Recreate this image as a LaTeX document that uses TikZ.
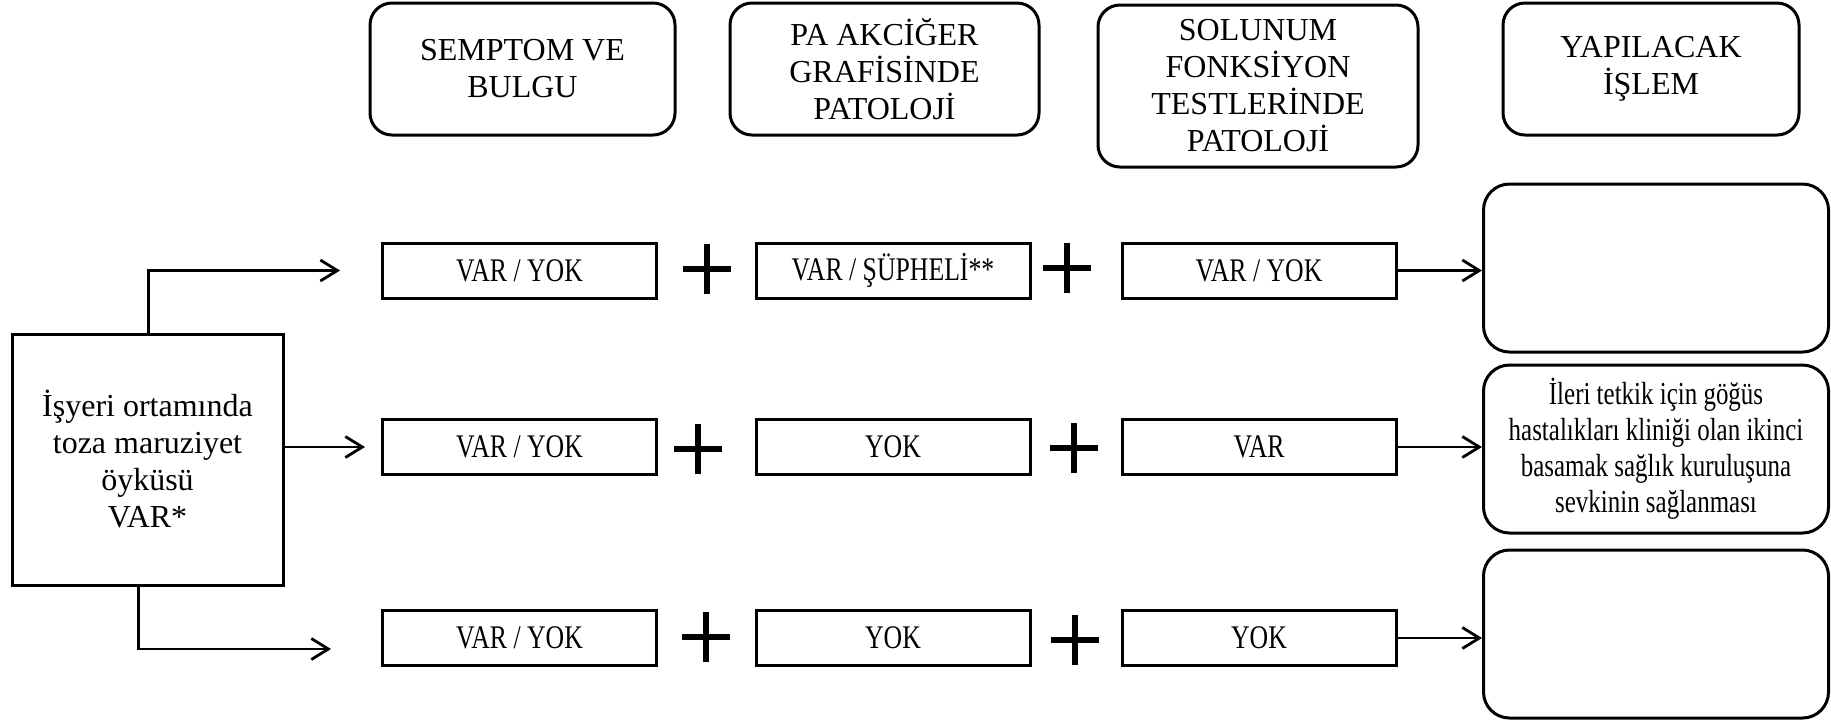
\documentclass[tikz,border=0pt]{standalone}
\usepackage{fontspec}
\setmainfont{Liberation Serif}
\newfontfamily\narrowfont{Liberation Serif}[FakeStretch=0.78]
\usetikzlibrary{arrows.meta}

\begin{document}
\begin{tikzpicture}[x=0.5pt,y=-0.5pt,
        >={Straight Barb[length=8.5pt,width=10.5pt]},
        head/.style={draw,line width=1.5pt,rounded corners=11pt,align=center,inner sep=0pt,font=\fontsize{16}{18.5}\selectfont},
        cell/.style={draw,line width=1.5pt,minimum width=137pt,minimum height=27.5pt,inner sep=0pt,font=\narrowfont\fontsize{16.5}{18.5}\selectfont},
        result/.style={draw,line width=1.5pt,rounded corners=13pt,minimum width=172.5pt,minimum height=84pt,align=center,inner sep=0pt,font=\narrowfont\fontsize{16}{18}\selectfont},
        arr/.style={->,line width=1.4pt},
        plus/.style={line width=3pt}]
            \useasboundingbox (0,0) rectangle (1831,720);
            \node[head,minimum width=152.5pt,minimum height=66pt] (symp) at (522.5,69) {SEMPTOM VE\\BULGU};
            \node[head,minimum width=154.5pt,minimum height=66pt] (pa) at (884.5,69) {PA AKCİĞER\\GRAFİSİNDE\\PATOLOJİ};
            \node[head,minimum width=160pt,minimum height=81pt] (sft) at (1258,86) {SOLUNUM\\FONKSİYON\\TESTLERİNDE\\PATOLOJİ};
            \node[head,minimum width=148pt,minimum height=66pt] (islem) at (1651,69) {YAPILACAK\\İŞLEM};
            \node[draw,line width=1.5pt,minimum width=135.5pt,minimum height=125.5pt,align=center,inner sep=0pt,font=\fontsize{16}{18.5}\selectfont] (oyku) at (147.5,459.5) {İşyeri ortamında\\toza maruziyet\\öyküsü\\VAR*};
            \node[cell] (r1a) at (519.5,270.5) {VAR / YOK};
            \node[cell] (r1b) at (893,270.5) {VAR / ŞÜPHELİ**};
            \node[cell] (r1c) at (1259,270.5) {VAR / YOK};
            \node[cell] (r2a) at (519.5,447) {VAR / YOK};
            \node[cell] (r2b) at (893,447) {YOK};
            \node[cell] (r2c) at (1259,447) {VAR};
            \node[cell] (r3a) at (519.5,638) {VAR / YOK};
            \node[cell] (r3b) at (893,638) {YOK};
            \node[cell] (r3c) at (1259,638) {YOK};
            \node[result] (o1) at (1656,268) {};
            \node[result] (o2) at (1656,449) {İleri tetkik için göğüs\\hastalıkları kliniği olan ikinci\\basamak sağlık kuruluşuna\\sevkinin sağlanması};
            \node[result] (o3) at (1656,634) {};
            \draw[plus] (707,269) +(-24,0) -- +(24,0) +(0,-25) -- +(0,25);
            \draw[plus] (1067,268) +(-24,0) -- +(24,0) +(0,-25) -- +(0,25);
            \draw[plus] (698,449) +(-24,0) -- +(24,0) +(0,-25) -- +(0,25);
            \draw[plus] (1074,448) +(-24,0) -- +(24,0) +(0,-25) -- +(0,25);
            \draw[plus] (706,637) +(-24,0) -- +(24,0) +(0,-25) -- +(0,25);
            \draw[plus] (1075,640) +(-24,0) -- +(24,0) +(0,-25) -- +(0,25);
            \coordinate (t3) at (331,649);
            \draw[arr,shorten >=20.5pt] ([xshift=69pt]oyku.north west) |- (r1a.west);
            \draw[arr,shorten >=8pt] (oyku.east |- r2a.west) -- (r2a.west);
            \draw[arr] ([xshift=64pt]oyku.south west) |- (t3);
            \draw[arr] (r1c.east) -- (r1c.east -| o1.west);
            \draw[arr] (r2c.east) -- (r2c.east -| o2.west);
            \draw[arr] (r3c.east) -- (r3c.east -| o3.west);
        \end{tikzpicture}
\end{document}
